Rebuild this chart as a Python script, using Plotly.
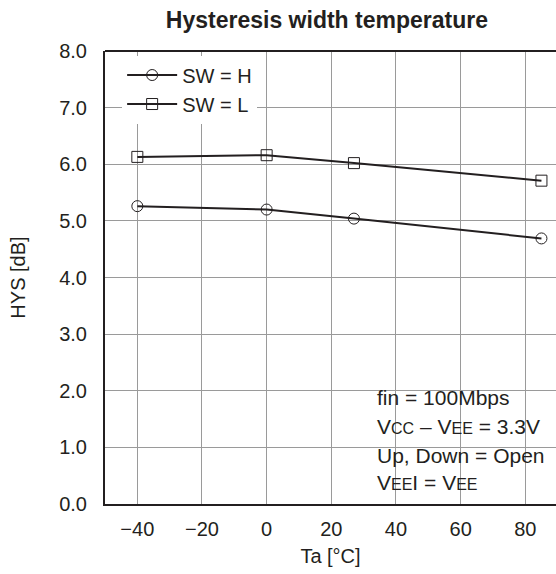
import plotly.graph_objects as go

temps = [-40, 0, 27, 85]
hys_sw_h = [5.26, 5.20, 5.04, 4.69]
hys_sw_l = [6.13, 6.16, 6.02, 5.71]
x_ticks = [-40, -20, 0, 20, 40, 60, 80]
x_tick_labels = ["\u221240", "\u221220", "0", "20", "40", "60", "80"]
y_ticks = [0, 1, 2, 3, 4, 5, 6, 7, 8]
y_tick_labels = ["0.0", "1.0", "2.0", "3.0", "4.0", "5.0", "6.0", "7.0", "8.0"]

FONT = "Liberation Sans, Arial, sans-serif"
TXT = "#231f20"
LINE = "#231f20"

fig = go.Figure()
fig.add_trace(go.Scatter(
    x=temps, y=hys_sw_h, name="SW = H", mode="lines+markers",
    line=dict(color=LINE, width=2),
    marker=dict(symbol="circle-open", size=11, color=LINE, line=dict(width=1)),
    legendgroup="h",
))
fig.add_trace(go.Scatter(
    x=temps, y=hys_sw_l, name="SW = L", mode="lines+markers",
    line=dict(color=LINE, width=2),
    marker=dict(symbol="square-open", size=11, color=LINE, line=dict(width=1)),
    legendgroup="l",
))

fig.update_layout(
    width=556, height=574,
    margin=dict(l=105, r=0, t=51, b=70, autoexpand=False),
    paper_bgcolor="white", plot_bgcolor="white",
    font=dict(family=FONT, size=20, color=TXT),
    title=dict(text="<b>Hysteresis width temperature</b>", x=0.588, xanchor="center",
               y=0.965, yanchor="middle", font=dict(size=23, color=TXT)),
    showlegend=True,
    legend=dict(x=0.038, y=0.99, xanchor="left", yanchor="top",
                bgcolor="white", borderwidth=0, font=dict(size=20, color=TXT),
                itemwidth=50, tracegroupgap=0),
)
fig.update_xaxes(
    range=[-50, 89.5], tickmode="array", tickvals=x_ticks, ticktext=x_tick_labels,
    showgrid=True, gridcolor="#9a9a9a", gridwidth=1,
    showline=True, linecolor=LINE, linewidth=2, mirror=False,
    zeroline=False, ticks="", ticklabelstandoff=6,
    title=dict(text="Ta [°C]", standoff=10, font=dict(size=20)),
)
fig.update_yaxes(
    range=[0, 8], tickmode="array", tickvals=y_ticks, ticktext=y_tick_labels,
    showgrid=True, gridcolor="#9a9a9a", gridwidth=1,
    showline=True, linecolor=LINE, linewidth=2,
    zeroline=False, ticks="", ticklabelstandoff=12,
    title=dict(text="HYS [dB]", standoff=28, font=dict(size=20)),
)
# top border line
fig.add_shape(type="line", xref="paper", yref="paper", x0=0, x1=1, y0=1, y1=1,
              line=dict(color=LINE, width=2))
# white box behind condition text
fig.add_shape(type="rect", xref="paper", yref="paper", x0=0.583, x1=0.993, y0=0.031, y1=0.263,
              fillcolor="white", line=dict(width=0), layer="between")

small = "<span style='font-size:16px'>"
cond_lines = [
    "fin = 100Mbps",
    f"V{small}CC</span> \u2013 V{small}EE</span> = 3.3V",
    "Up, Down = Open",
    f"V{small}EE</span>I = V{small}EE</span>",
]
cond_y = [0.236, 0.172, 0.108, 0.048]
for t, yy in zip(cond_lines, cond_y):
    fig.add_annotation(xref="paper", yref="paper", x=0.599, y=yy,
                       xanchor="left", yanchor="middle", text=t, showarrow=False,
                       font=dict(size=21, color=TXT))

fig.write_html("out.html", config={"displayModeBar": False},
               post_script="document.body.style.margin='0';")
